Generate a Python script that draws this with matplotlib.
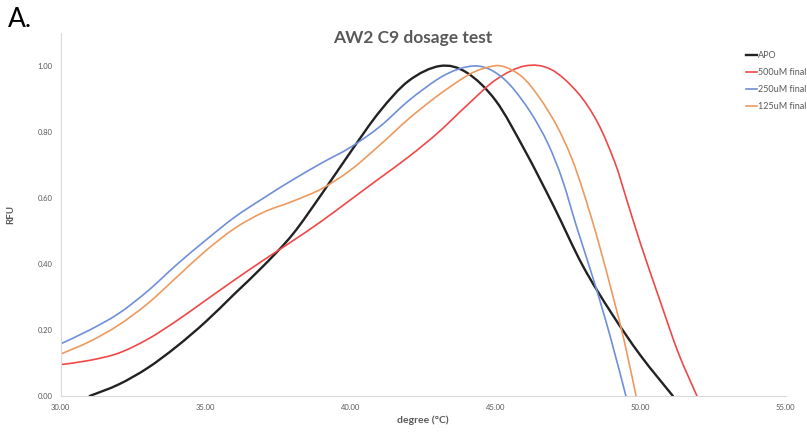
import matplotlib
matplotlib.use("Agg")
import matplotlib.pyplot as plt
from matplotlib.path import Path
from matplotlib.patches import PathPatch
from matplotlib.lines import Line2D

plt.rcParams['font.family'] = ['Lato', 'DejaVu Sans']

# Melt curves (degree C, RFU)
apo_x = [31.0, 32.0, 33.0, 34.0, 35.0, 36.0, 37.0, 38.0, 39.0, 40.0, 41.0, 42.0, 43.08,
         44.0, 45.0, 46.0, 47.0, 48.0, 49.0, 50.0, 51.11]
apo_y = [0.0, 0.035, 0.085, 0.15, 0.225, 0.31, 0.395, 0.49, 0.612, 0.74, 0.862, 0.955, 1.0,
         0.98, 0.895, 0.745, 0.575, 0.395, 0.25, 0.122, 0.0]

uM500_x = [30.0, 31.0, 32.0, 33.0, 34.0, 35.0, 36.0, 37.0, 38.0, 39.0, 40.0, 41.0, 42.0,
           43.0, 44.0, 45.0, 46.0, 46.9, 47.8, 48.5, 49.1, 49.5, 50.0, 50.7, 51.3, 51.94]
uM500_y = [0.095, 0.108, 0.13, 0.172, 0.228, 0.29, 0.352, 0.412, 0.47, 0.53, 0.595, 0.66,
           0.725, 0.797, 0.88, 0.958, 1.0, 0.99, 0.922, 0.831, 0.71, 0.6, 0.46, 0.28,
           0.13, 0.0]

uM250_x = [30.0, 31.0, 32.0, 33.0, 34.0, 35.0, 36.0, 37.0, 38.0, 39.0, 40.0, 41.0, 42.0,
           43.0, 43.7, 44.34, 44.9, 45.5, 46.2, 46.8, 47.3, 47.8, 48.4, 48.95, 49.49]
uM250_y = [0.158, 0.2, 0.25, 0.318, 0.398, 0.472, 0.542, 0.6, 0.655, 0.706, 0.754, 0.816,
           0.895, 0.96, 0.99, 1.0, 0.985, 0.942, 0.86, 0.765, 0.655, 0.51, 0.345, 0.18,
           0.0]

uM125_x = [30.0, 31.0, 32.0, 33.0, 34.0, 35.0, 36.0, 37.0, 38.0, 39.0, 40.0, 41.0, 42.0,
           43.0, 44.0, 44.6, 45.2, 45.9, 46.5, 47.1, 47.6, 48.0, 48.5, 49.05, 49.45, 49.84]
uM125_y = [0.127, 0.165, 0.215, 0.28, 0.36, 0.44, 0.508, 0.557, 0.59, 0.628, 0.685, 0.76,
           0.84, 0.91, 0.97, 0.993, 1.0, 0.968, 0.905, 0.82, 0.725, 0.625, 0.48, 0.3,
           0.16, 0.0]

labels = ['APO', '500uM final', '250uM final', '125uM final']
colors = ['#222222', '#F04848', '#6F8FD9', '#EE9A5F']
widths = [1.7, 1.2, 1.2, 1.2]

x_ticks = [30, 35, 40, 45, 50, 55]
y_ticks = [0.0, 0.2, 0.4, 0.6, 0.8, 1.0]


# Smoothed line like the spreadsheet's "smooth line" option (Bezier through the points)
def smooth_path(xs, ys):
    pts = list(zip(xs, ys))
    verts = [pts[0]]
    codes = [Path.MOVETO]
    n = len(pts)
    for i in range(n - 1):
        p0 = pts[i - 1] if i > 0 else pts[i]
        p1 = pts[i]
        p2 = pts[i + 1]
        p3 = pts[i + 2] if i + 2 < n else pts[i + 1]
        c1 = (p1[0] + (p2[0] - p0[0]) / 6, p1[1] + (p2[1] - p0[1]) / 6)
        c2 = (p2[0] - (p3[0] - p1[0]) / 6, p2[1] - (p3[1] - p1[1]) / 6)
        verts += [c1, c2, p2]
        codes += [Path.CURVE4] * 3
    return Path(verts, codes)


fig = plt.figure(figsize=(8.07, 4.33), dpi=100)
ax = fig.add_axes([0.0752, 0.0855, 0.8984, 0.8383])

series = [(apo_x, apo_y), (uM500_x, uM500_y), (uM250_x, uM250_y), (uM125_x, uM125_y)]
handles = []
for (xs, ys), lab, col, lw in zip(series, labels, colors, widths):
    patch = PathPatch(smooth_path(xs, ys), facecolor='none', edgecolor=col, lw=lw,
                      capstyle='round', joinstyle='round')
    ax.add_patch(patch)
    handles.append(Line2D([], [], color=col, lw=lw))

ax.set_xlim(30, 55)
ax.set_ylim(0, 1.1)
ax.set_xticks(x_ticks)
ax.set_xticklabels([f"{v:.2f}" for v in x_ticks])
ax.set_yticks(y_ticks)
ax.set_yticklabels([f"{v:.2f}" for v in y_ticks])
ax.tick_params(length=0, labelsize=5.5, labelcolor='#595959', pad=6)

for side in ['top', 'right']:
    ax.spines[side].set_visible(False)
ax.spines['left'].set_color('#d9d9d9')
ax.spines['bottom'].set_color('#d9d9d9')
ax.spines['left'].set_linewidth(0.8)
ax.spines['bottom'].set_linewidth(0.8)

ax.set_xlabel('degree (°C)', fontsize=7.5, color='#595959', fontweight='bold', labelpad=3)
ax.set_ylabel('RFU', fontsize=7, color='#595959', fontweight='bold')
ax.yaxis.set_label_coords(-0.063, 0.5)

fig.text(0.512, 0.913, 'AW2 C9 dosage test', ha='center', va='center',
         fontsize=12.5, fontweight='bold', color='#595959')
fig.text(0.01, 0.955, 'A.', ha='left', va='center', fontsize=19, color='black')

leg = fig.legend(handles, labels, loc='upper left', bbox_to_anchor=(0.924, 0.882),
                 bbox_transform=fig.transFigure, frameon=False, fontsize=6.5,
                 handlelength=1.2, handletextpad=0.15, labelspacing=0.9,
                 borderaxespad=0, borderpad=0)
for t in leg.get_texts():
    t.set_color('#595959')

fig.savefig('out.png', dpi=100)
